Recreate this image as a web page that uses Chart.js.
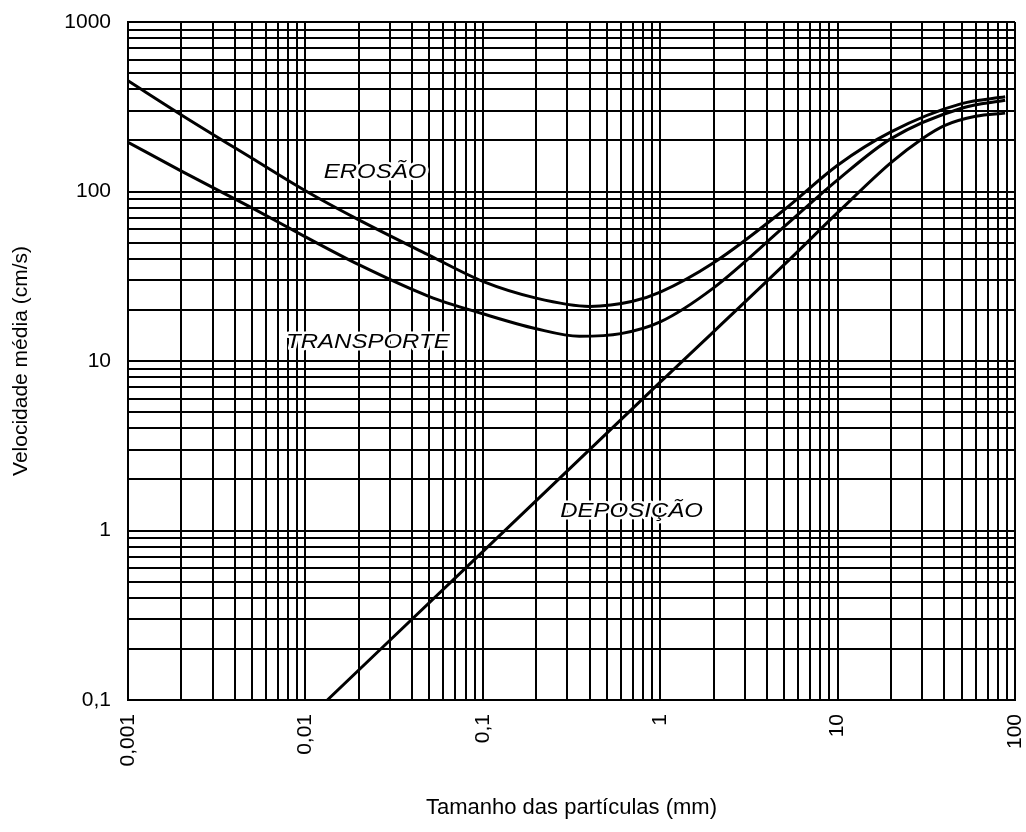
<!DOCTYPE html>
<html>
<head>
<meta charset="utf-8">
<script src="https://cdn.jsdelivr.net/npm/chart.js@4"></script>
<style>
  html, body { margin: 0; padding: 0; background: #fff; }
  #wrap { width: 1026px; height: 832px; position: relative; }
</style>
</head>
<body>
<div id="wrap"><canvas id="hjul"></canvas></div>
<script>
        // tick labels (decades only)
        const xTickLabels = ['0,001', '0,01', '0,1', '1', '10', '100'];
        const yTickLabels = ['0,1', '1', '10', '100', '1000'];

        // curves (mm, cm/s)
        const erosaoX = [0.001, 0.002, 0.005, 0.01, 0.02, 0.05, 0.1, 0.2, 0.4, 0.7, 1, 2, 5, 10, 20, 50, 88];
        const erosaoY = [450, 283, 157, 101, 68, 42, 29.5, 23.5, 21, 22.5, 25.5, 38, 78, 143, 225, 330, 362];

        const transporteX = [0.001, 0.002, 0.005, 0.01, 0.02, 0.05, 0.1, 0.2, 0.35, 0.6, 1, 2, 5, 10, 20, 50, 88];
        const transporteY = [195, 132, 80, 54, 37, 24, 19, 15.5, 14, 14.5, 17, 27, 62, 117, 205, 310, 345];

        const deposicaoX = [0.0133, 0.1, 1, 5, 10, 20, 30, 40, 60, 88];
        const deposicaoY = [0.1, 0.75, 7.5, 37, 75, 148, 205, 245, 278, 290];

        const curveNames = ['EROSÃO', 'TRANSPORTE', 'DEPOSIÇÃO'];

        function pts(xs, ys) {
            return xs.map((x, i) => ({ x: x, y: ys[i] }));
        }

        // 1..9 x 10^n grid ticks between two decades
        function logTicks(fromExp, toExp) {
            const t = [];
            for (let e = fromExp; e < toExp; e++) {
                for (let s = 1; s <= 9; s++) {
                    t.push({ value: Number((s * Math.pow(10, e)).toPrecision(6)) });
                }
            }
            t.push({ value: Math.pow(10, toExp) });
            return t;
        }

        function decadeLabel(value, labels, firstExp) {
            const e = Math.log10(value);
            if (Math.abs(e - Math.round(e)) > 1e-6) return '';
            return labels[Math.round(e) - firstExp] || '';
        }

        // where the curve names sit (data coords) and how they are drawn
        const namePlaces = [[0.0247, 130], [0.0225, 12.9], [0.69, 1.29]];

        const curveNamePlugin = {
            id: 'curveNames',
            afterDatasetsDraw(chart) {
                const c = chart.ctx;
                const xs = chart.scales.x, ys = chart.scales.y;
                c.save();
                c.font = 'italic 20px "Liberation Sans", Arial, sans-serif';
                c.textAlign = 'center';
                c.textBaseline = 'middle';
                c.lineJoin = 'round';
                curveNames.forEach((name, i) => {
                    const px = xs.getPixelForValue(namePlaces[i][0]);
                    const py = ys.getPixelForValue(namePlaces[i][1]);
                    c.save();
                    c.translate(px, py);
                    c.scale(1.2, 1);
                    c.strokeStyle = '#fff';
                    c.lineWidth = 5;
                    c.strokeText(name, 0, 0);
                    c.fillStyle = '#000';
                    c.fillText(name, 0, 0);
                    c.restore();
                });
                c.restore();
            }
        };

        const bg = {
            id: 'bg',
            beforeDraw(chart) {
                const c = chart.ctx;
                c.save();
                c.fillStyle = '#fff';
                c.fillRect(0, 0, chart.width, chart.height);
                c.restore();
            }
        };

        const lineStyle = {
            borderColor: '#000',
            borderWidth: 3,
            pointRadius: 0,
            fill: false,
            cubicInterpolationMode: 'monotone'
        };

        const ctx = document.getElementById('hjul');
        new Chart(ctx, {
            type: 'line',
            data: {
                datasets: [
                    Object.assign({ label: curveNames[0], data: pts(erosaoX, erosaoY) }, lineStyle),
                    Object.assign({ label: curveNames[1], data: pts(transporteX, transporteY) }, lineStyle),
                    Object.assign({ label: curveNames[2], data: pts(deposicaoX, deposicaoY) }, lineStyle)
                ]
            },
            options: {
                responsive: true,
                maintainAspectRatio: false,
                animation: false,
                events: [],
                layout: { padding: { left: 0, top: 22, right: 11, bottom: 0 } },
                plugins: {
                    legend: { display: false },
                    tooltip: { enabled: false }
                },
                scales: {
                    x: {
                        type: 'logarithmic',
                        min: 0.001,
                        max: 100,
                        afterBuildTicks(scale) { scale.ticks = logTicks(-3, 2); },
                        afterFit(scale) {
                            scale.height = 132;
                            scale.paddingLeft = 0;
                            scale.paddingRight = 0;
                        },
                        border: { color: '#000', width: 2 },
                        grid: { color: '#000', lineWidth: 2, drawTicks: false },
                        ticks: {
                            autoSkip: false,
                            minRotation: 90,
                            maxRotation: 90,
                            padding: 14,
                            color: '#000',
                            font: { family: '"Liberation Sans", Arial, sans-serif', size: 21 },
                            callback: (v) => decadeLabel(v, xTickLabels, -3)
                        },
                        title: {
                            display: true,
                            text: 'Tamanho das partículas (mm)',
                            color: '#000',
                            font: { family: '"Liberation Sans", Arial, sans-serif', size: 22 },
                            padding: { top: 4, bottom: 11 }
                        }
                    },
                    y: {
                        type: 'logarithmic',
                        min: 0.1,
                        max: 1000,
                        afterBuildTicks(scale) { scale.ticks = logTicks(-1, 3); },
                        afterFit(scale) {
                            scale.width = 128;
                            scale.paddingTop = 0;
                            scale.paddingBottom = 0;
                        },
                        border: { color: '#000', width: 2 },
                        grid: { color: '#000', lineWidth: 2, drawTicks: false },
                        ticks: {
                            autoSkip: false,
                            padding: 17,
                            color: '#000',
                            font: { family: '"Liberation Sans", Arial, sans-serif', size: 21 },
                            callback: (v) => decadeLabel(v, yTickLabels, -1)
                        },
                        title: {
                            display: true,
                            text: 'Velocidade média (cm/s)',
                            color: '#000',
                            font: { family: '"Liberation Sans", Arial, sans-serif', size: 21 },
                            padding: { top: 9, bottom: 4 }
                        }
                    }
                }
            },
            plugins: [bg, curveNamePlugin]
        });
</script>
</body>
</html>
